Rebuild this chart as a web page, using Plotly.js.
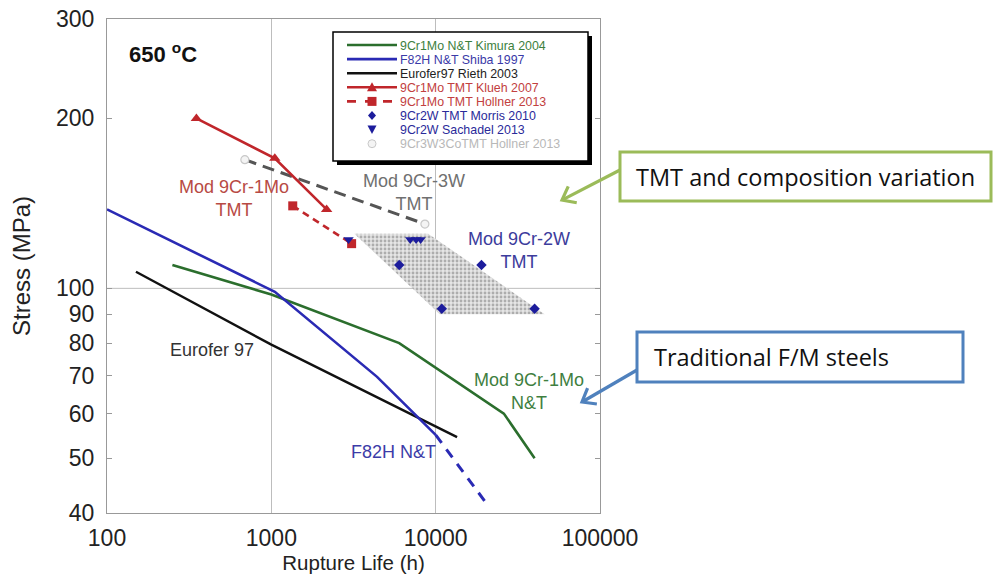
<!DOCTYPE html>
<html><head><meta charset="utf-8">
<script src="https://cdn.plot.ly/plotly-3.0.1.min.js"></script>
<style>html,body{margin:0;padding:0;background:#fff}#chart{width:994px;height:584px}</style>
</head><body><div id="chart"></div>
<script>
// ---- data (rupture life in h, stress in MPa) ----
const kimuraX = [250, 1000, 6000, 26000, 40000];
const kimuraY = [110, 97.5, 80, 60, 50];
const shibaX = [100, 1050, 4400, 10000];
const shibaY = [138, 98.6, 69.7, 55];
const shibaExtX = [10000, 20500];
const shibaExtY = [55, 41.5];
const riethX = [150, 1000, 13500];
const riethY = [107, 79.5, 54.5];
const kluehX = [350, 1050, 2170];
const kluehY = [200, 170, 138];
const hollnerMoX = [1350, 3080];
const hollnerMoY = [140, 120];
const morrisX = [6000, 19000, 10900, 40000];
const morrisY = [110, 110, 92, 92];
const sachadelX = [2950, 7000, 7600, 8100];
const sachadelY = [122, 122, 122, 122];
const hollnerWX = [690, 8600];
const hollnerWY = [169, 130];
const bandX = [3200, 9000, 46000, 10600];
const bandY = [125, 125, 90, 90];
const xTickVals = [100, 1000, 10000, 100000];
const xTickText = ['100', '1000', '10000', '100000'];
const yTickVals = [40, 50, 60, 70, 80, 90, 100, 200, 300];
const yTickText = ['40', '50', '60', '70', '80', '90', '100', '200', '300'];
const yGridVals = [100];
const legendNames = ['9Cr1Mo N&T Kimura 2004', 'F82H N&T Shiba 1997', 'Eurofer97 Rieth 2003',
  '9Cr1Mo TMT Klueh 2007', '9Cr1Mo TMT Hollner 2013', '9Cr2W TMT Morris 2010',
  '9Cr2W Sachadel 2013', '9Cr3W3CoTMT Hollner 2013'];

// ---- styles ----
const GREEN = '#2b6e2d', BLUE = '#2a2ab4', BLACK = '#111111', RED = '#c0262b',
      NAVY = '#1c1c9c', GRAY = '#555555', LGRAY = '#c8c8c8';
const legendText = ['#3d7f3d', '#3a3aa8', '#222222', '#c24040', '#c24040', '#2a2a9a', '#2a2a9a', '#b8b8b8'];
const FONT = 'Liberation Sans, Arial, sans-serif';

// plot-area pixel frame -> paper coordinates (for decorations only)
const L = 107, R = 600, T = 19, B = 513;
const px = x => (x - L) / (R - L);
const py = y => (B - y) / (B - T);

const traces = [
  {x: bandX, y: bandY, type: 'scatter', mode: 'lines', fill: 'toself',
   fillcolor: 'rgba(210,210,210,1)',
   fillpattern: {shape: '.', fgcolor: '#adadad', bgcolor: '#e6e6e6', size: 4, solidity: 0.4},
   line: {width: 0}, hoverinfo: 'skip'},
  {x: kimuraX, y: kimuraY, mode: 'lines', line: {color: GREEN, width: 2.6}},
  {x: riethX, y: riethY, mode: 'lines', line: {color: BLACK, width: 2.4}},
  {x: shibaX, y: shibaY, mode: 'lines', line: {color: BLUE, width: 2.6}},
  {x: shibaExtX, y: shibaExtY, mode: 'lines', line: {color: BLUE, width: 3, dash: '10px,8px'}},
  {x: hollnerWX, y: hollnerWY, mode: 'lines+markers', line: {color: GRAY, width: 3, dash: '12px,7px'},
   marker: {symbol: 'circle', size: 8, color: '#f4f4f4', line: {color: LGRAY, width: 1.2}}},
  {x: kluehX, y: kluehY, mode: 'lines+markers', line: {color: RED, width: 2.6},
   marker: {symbol: 'triangle-up', size: 10, color: RED}},
  {x: hollnerMoX, y: hollnerMoY, mode: 'lines+markers', line: {color: RED, width: 2.6, dash: '7px,5px'},
   marker: {symbol: 'square', size: 9, color: RED}},
  {x: sachadelX, y: sachadelY, mode: 'markers', marker: {symbol: 'triangle-down', size: 9, color: NAVY}},
  {x: morrisX, y: morrisY, mode: 'markers', marker: {symbol: 'diamond', size: 8, color: NAVY}}
].map(t => Object.assign({type: 'scatter', showlegend: false, cliponaxis: false}, t));

const shapes = [];
const annotations = [];

// horizontal gridline(s) at data value(s) on the log stress axis
yGridVals.forEach(v => shapes.push({type: 'line', xref: 'paper', yref: 'y', x0: 0, x1: 1, y0: v, y1: v,
  line: {color: '#bdbdbd', width: 1}, layer: 'below'}));

// ---- custom compact legend (decoration) ----
shapes.push({type: 'rect', xref: 'paper', yref: 'paper', x0: px(337), x1: px(592), y0: py(36), y1: py(165),
  fillcolor: '#000', line: {width: 0}, layer: 'above'});
shapes.push({type: 'rect', xref: 'paper', yref: 'paper', x0: px(333), x1: px(588), y0: py(32), y1: py(161),
  fillcolor: '#fff', line: {color: '#000', width: 1.5}, layer: 'above'});
const rowY = i => 45 + 14.1 * i;
const lineRows = [[GREEN, 'solid'], [BLUE, 'solid'], [BLACK, 'solid'], [RED, 'solid'], [RED, 'dash']];
lineRows.forEach((s, i) => {
  shapes.push({type: 'line', xref: 'paper', yref: 'paper', x0: px(347), x1: px(397), y0: py(rowY(i)), y1: py(rowY(i)),
    line: {color: s[0], width: 2.6, dash: s[1]}, layer: 'above'});
});
const mx = 372;
function pathOf(pts, close) { return 'M' + pts.map(p => px(p[0]) + ',' + py(p[1])).join('L') + (close === false ? '' : 'Z'); }
let yy = rowY(3);
shapes.push({type: 'path', xref: 'paper', yref: 'paper', path: pathOf([[mx - 5, yy + 4], [mx + 5, yy + 4], [mx, yy - 5]]), fillcolor: RED, line: {width: 0}, layer: 'above'});
yy = rowY(4);
shapes.push({type: 'path', xref: 'paper', yref: 'paper', path: pathOf([[mx - 4.5, yy - 4.5], [mx + 4.5, yy - 4.5], [mx + 4.5, yy + 4.5], [mx - 4.5, yy + 4.5]]), fillcolor: RED, line: {width: 0}, layer: 'above'});
yy = rowY(5);
shapes.push({type: 'path', xref: 'paper', yref: 'paper', path: pathOf([[mx, yy - 4.5], [mx + 4, yy], [mx, yy + 4.5], [mx - 4, yy]]), fillcolor: NAVY, line: {width: 0}, layer: 'above'});
yy = rowY(6);
shapes.push({type: 'path', xref: 'paper', yref: 'paper', path: pathOf([[mx - 4.5, yy - 4], [mx + 4.5, yy - 4], [mx, yy + 4.5]]), fillcolor: NAVY, line: {width: 0}, layer: 'above'});
yy = rowY(7);
shapes.push({type: 'circle', xref: 'paper', yref: 'paper', x0: px(mx - 4), x1: px(mx + 4), y0: py(yy - 4), y1: py(yy + 4), fillcolor: '#f4f4f4', line: {color: LGRAY, width: 1}, layer: 'above'});
legendNames.forEach((n, i) => {
  annotations.push({xref: 'paper', yref: 'paper', x: px(399), y: py(rowY(i)), xanchor: 'left', yanchor: 'middle',
    text: n, showarrow: false, height: 13, borderpad: 0,
    font: {family: FONT, size: 12.4, color: legendText[i]}});
});

// ---- in-plot labels ----
const lab = (x, y, text, color, extra) => Object.assign({xref: 'paper', yref: 'paper', x: px(x), y: py(y),
  xanchor: 'center', yanchor: 'middle', text: text, showarrow: false,
  font: {family: FONT, size: 18, color: color}}, extra || {});
annotations.push(lab(234, 198, 'Mod 9Cr-1Mo<br>TMT', '#b84a44'));
annotations.push(lab(414, 192, 'Mod 9Cr-3W<br>TMT', '#707070'));
annotations.push(lab(519, 250, 'Mod 9Cr-2W<br>TMT', '#3c3c9c'));
annotations.push(lab(212, 350, 'Eurofer 97', '#333333'));
annotations.push(lab(529, 391, 'Mod 9Cr-1Mo<br>N&T', '#3f7f3f'));
annotations.push(lab(393, 452, 'F82H N&T', '#3c3ca8'));
annotations.push(lab(127, 53, '<b>650 <sup>o</sup>C</b>', '#111111', {xanchor: 'left', font: {family: FONT, size: 22, color: '#111'}}));

// ---- callout boxes ----
shapes.push({type: 'rect', xref: 'paper', yref: 'paper', x0: px(620), x1: px(991), y0: py(152), y1: py(201),
  fillcolor: '#fff', line: {color: '#9bbb59', width: 3}, layer: 'above'});
shapes.push({type: 'rect', xref: 'paper', yref: 'paper', x0: px(637), x1: px(963), y0: py(332), y1: py(382),
  fillcolor: '#fff', line: {color: '#4f81bd', width: 3}, layer: 'above'});
annotations.push({xref: 'paper', yref: 'paper', x: px(634), y: py(177), xanchor: 'left', yanchor: 'middle',
  text: 'TMT and composition variation', showarrow: false, font: {family: 'Open Sans, sans-serif', size: 23.5, color: '#111'}});
annotations.push({xref: 'paper', yref: 'paper', x: px(652), y: py(357), xanchor: 'left', yanchor: 'middle',
  text: 'Traditional F/M steels', showarrow: false, font: {family: 'Open Sans, sans-serif', size: 23.5, color: '#111'}});

// arrows drawn as shapes (line + open chevron head), pixel geometry converted to paper
function arrow(tail, tip, color) {
  const dx = tip[0] - tail[0], dy = tip[1] - tail[1];
  const len = Math.hypot(dx, dy);
  const bx = -dx / len, by = -dy / len;
  const a = 38 * Math.PI / 180, arm = 15;
  const r = s => [tip[0] + arm * (bx * Math.cos(s * a) - by * Math.sin(s * a)),
                  tip[1] + arm * (bx * Math.sin(s * a) + by * Math.cos(s * a))];
  shapes.push({type: 'line', xref: 'paper', yref: 'paper', x0: px(tail[0]), y0: py(tail[1]),
    x1: px(tip[0] + bx * 1.5), y1: py(tip[1] + by * 1.5), line: {color: color, width: 3.2}, layer: 'above'});
  shapes.push({type: 'path', xref: 'paper', yref: 'paper', path: pathOf([r(1), tip, r(-1)], false),
    line: {color: color, width: 3.2}, layer: 'above'});
}
arrow([620, 170], [562, 200], '#9bbb59');
arrow([637, 370], [582, 402], '#4f81bd');

const tickFont = {family: FONT, size: 23, color: '#222'};
const layout = {
  width: 994, height: 584,
  margin: {l: L, r: 994 - R, t: T, b: 584 - B, pad: 0},
  paper_bgcolor: '#fff', plot_bgcolor: '#fff',
  showlegend: false,
  xaxis: {type: 'log', range: [2, 5], tickvals: xTickVals, ticktext: xTickText,
    showgrid: true, gridcolor: '#bdbdbd', gridwidth: 1, zeroline: false,
    showline: true, mirror: true, linecolor: '#999', linewidth: 1, ticks: '',
    tickfont: tickFont, ticklabelstandoff: 4,
    title: {text: 'Rupture Life (h)', font: {family: FONT, size: 20.5, color: '#222'}, standoff: 6}},
  yaxis: {type: 'log', range: [Math.log10(40), Math.log10(300)], tickvals: yTickVals, ticktext: yTickText,
    showgrid: false, zeroline: false,
    showline: true, mirror: 'ticks', linecolor: '#999', linewidth: 1, ticks: 'inside', ticklen: 5, tickcolor: '#999',
    tickfont: tickFont, ticklabelstandoff: 7,
    title: {text: 'Stress (MPa)', font: {family: FONT, size: 24, color: '#222'}, standoff: 18}},
  shapes: shapes,
  annotations: annotations
};

Plotly.newPlot('chart', traces, layout, {displayModeBar: false, staticPlot: true});
</script>
</body></html>
